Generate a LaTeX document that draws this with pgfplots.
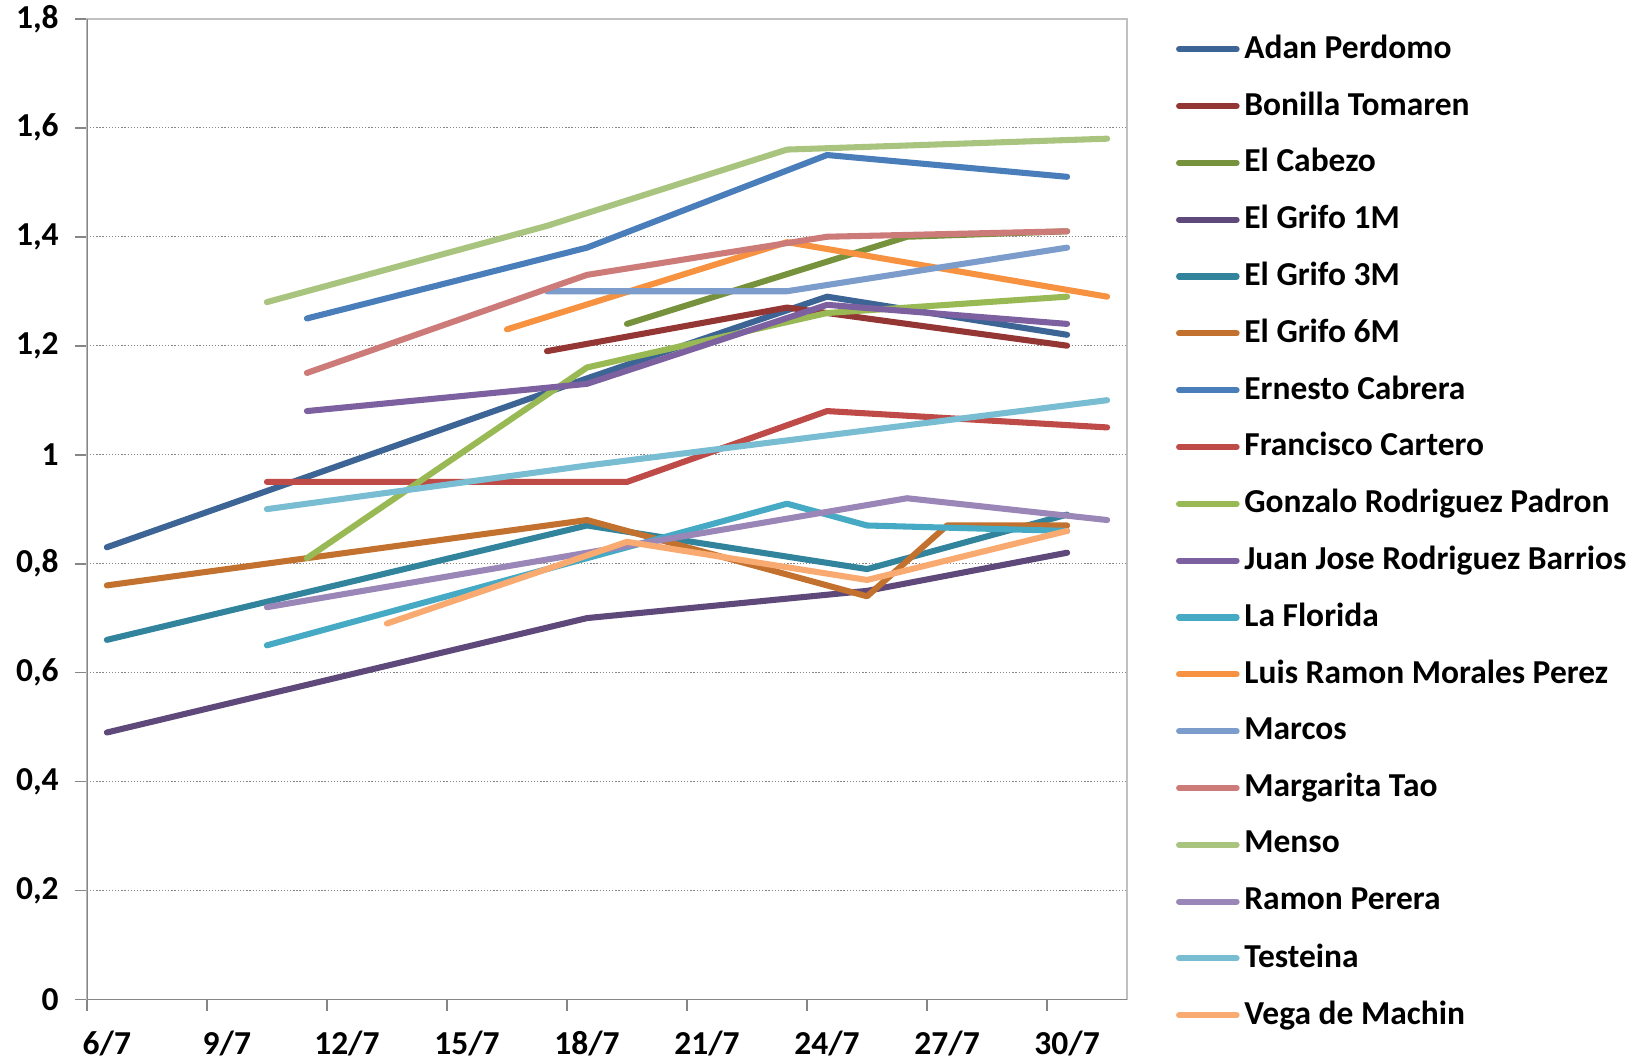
\documentclass[border=0pt]{standalone}
\usepackage{fontspec}
\setmainfont{Carlito}
\usepackage{pgfplots}
\pgfplotsset{compat=1.18}

\definecolor{cAdan}{HTML}{3C6494}
\definecolor{cBonilla}{HTML}{943634}
\definecolor{cCabezo}{HTML}{76923C}
\definecolor{cGrifoA}{HTML}{5F497A}
\definecolor{cGrifoB}{HTML}{31849B}
\definecolor{cGrifoC}{HTML}{C3712E}
\definecolor{cErnesto}{HTML}{4A7EBB}
\definecolor{cFrancisco}{HTML}{BE4B48}
\definecolor{cGonzalo}{HTML}{98B954}
\definecolor{cJuan}{HTML}{7D60A0}
\definecolor{cFlorida}{HTML}{46AAC5}
\definecolor{cLuis}{HTML}{F69240}
\definecolor{cMarcos}{HTML}{7C9CCC}
\definecolor{cMargarita}{HTML}{CD7B79}
\definecolor{cMenso}{HTML}{A9C47F}
\definecolor{cRamon}{HTML}{9B86B8}
\definecolor{cTesteina}{HTML}{78BDD2}
\definecolor{cVega}{HTML}{F9AA71}
\definecolor{axisgray}{HTML}{868686}
\definecolor{boxgray}{HTML}{C0C0C0}

\begin{document}
\begin{tikzpicture}
\begin{axis}[
  at={(0,0)}, anchor=south west,
  scale only axis,
  width=99.4mm, height=93.7mm,
  xmin=5.5, xmax=31.5,
  ymin=0, ymax=1.8,
  axis line style={boxgray, line width=0.5pt},
  tick pos=left,
  tick align=outside,
  major tick length=1.1mm,
  tick style={axisgray, line width=0.5pt},
  xtick={5.5,8.5,...,29.5},
  xticklabels={6/7,9/7,12/7,15/7,18/7,21/7,24/7,27/7,30/7},
  xticklabel style={xshift=1.91mm, yshift=-0.7mm},
  ytick={0,0.2,0.4,0.6,0.8,1,1.2,1.4,1.6,1.8},
  yticklabels={0,{0,2},{0,4},{0,6},{0,8},1,{1,2},{1,4},{1,6},{1,8}},
  yticklabel style={xshift=-0.35mm},
  /pgf/number format/assume math mode=true,
  tick label style={font=\fontsize{9.1}{11}\selectfont\bfseries},
  ymajorgrids,
  major grid style={axisgray, line width=0.35pt, dash pattern=on 0.35pt off 0.5pt},
  every axis plot/.append style={line width=1.65pt, line cap=round, line join=round},
  legend cell align=left,
  legend image code/.code={\draw[#1] (0mm,0mm) -- (5.5mm,0mm);},
  legend style={at={(1.047,0.998)}, anchor=north west, draw=none,
    inner sep=0pt, outer sep=0pt, row sep=0pt, column sep=0.45mm,
    font=\fontsize{9.1}{11}\selectfont\bfseries,
    nodes={inner sep=0pt, minimum height=5.43mm}},
]
\addplot[cAdan] coordinates {(6,0.83) (18,1.14) (24,1.29) (30,1.22)};
\addlegendentry{Adan Perdomo}
\addplot[cBonilla] coordinates {(17,1.19) (23,1.27) (30,1.20)};
\addlegendentry{Bonilla Tomaren}
\addplot[cCabezo] coordinates {(19,1.24) (26,1.40) (30,1.41)};
\addlegendentry{El Cabezo}
\addplot[cGrifoA] coordinates {(6,0.49) (18,0.70) (25,0.75) (30,0.82)};
\addlegendentry{El Grifo 1M}
\addplot[cGrifoB] coordinates {(6,0.66) (18,0.87) (25,0.79) (30,0.89)};
\addlegendentry{El Grifo 3M}
\addplot[cGrifoC] coordinates {(6,0.76) (18,0.88) (25,0.74) (27,0.87) (30,0.87)};
\addlegendentry{El Grifo 6M}
\addplot[cErnesto] coordinates {(11,1.25) (18,1.38) (24,1.55) (30,1.51)};
\addlegendentry{Ernesto Cabrera}
\addplot[cFrancisco] coordinates {(10,0.95) (19,0.95) (24,1.08) (31,1.05)};
\addlegendentry{Francisco Cartero}
\addplot[cGonzalo] coordinates {(11,0.81) (18,1.16) (24,1.26) (30,1.29)};
\addlegendentry{Gonzalo Rodriguez Padron}
\addplot[cJuan] coordinates {(11,1.08) (18,1.13) (24,1.275) (30,1.24)};
\addlegendentry{Juan Jose Rodriguez Barrios}
\addplot[cFlorida] coordinates {(10,0.65) (18,0.81) (23,0.91) (25,0.87) (30,0.86)};
\addlegendentry{La Florida}
\addplot[cLuis] coordinates {(16,1.23) (23,1.39) (31,1.29)};
\addlegendentry{Luis Ramon Morales Perez}
\addplot[cMarcos] coordinates {(17,1.30) (23,1.30) (30,1.38)};
\addlegendentry{Marcos}
\addplot[cMargarita] coordinates {(11,1.15) (18,1.33) (24,1.40) (30,1.41)};
\addlegendentry{Margarita Tao}
\addplot[cMenso] coordinates {(10,1.28) (17,1.42) (23,1.56) (31,1.58)};
\addlegendentry{Menso}
\addplot[cRamon] coordinates {(10,0.72) (18,0.82) (26,0.92) (31,0.88)};
\addlegendentry{Ramon Perera}
\addplot[cTesteina] coordinates {(10,0.90) (18,0.98) (31,1.10)};
\addlegendentry{Testeina}
\addplot[cVega] coordinates {(13,0.69) (19,0.84) (25,0.77) (30,0.86)};
\addlegendentry{Vega de Machin}
\draw[axisgray, line width=0.5pt] (rel axis cs:0,1) -- (rel axis cs:0,0) -- (rel axis cs:1,0);
\end{axis}
\pgfresetboundingbox
\path (-8.3mm,-5.6mm) rectangle (148.5mm,95.5mm);
\end{tikzpicture}
\end{document}
